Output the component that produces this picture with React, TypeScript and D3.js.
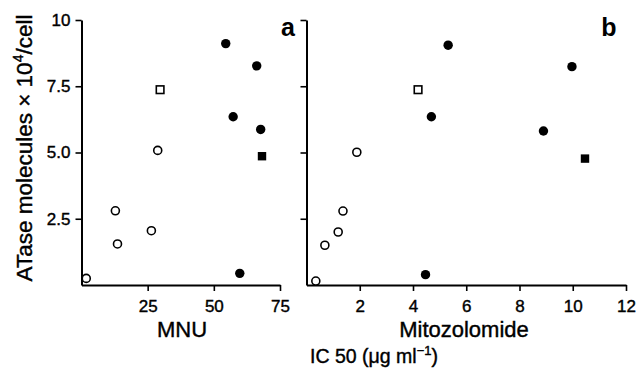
import React, { useRef, useEffect } from "react";
import * as d3 from "d3";

// MNU panel (a)
const mnuX = [1.8, 12.8, 13.6, 26.4, 28.8, 29.7, 54.5, 66.2, 57.3, 67.7, 68.2, 59.8];
const mnuY = [0.25, 2.8, 1.55, 2.05, 5.08, 7.37, 9.11, 8.27, 6.35, 5.87, 4.86, 0.44];
// Mitozolomide panel (b)
const mitoX = [0.35, 0.69, 1.19, 1.37, 1.89, 4.19, 5.32, 9.97, 4.69, 8.9, 10.46, 4.47];
const mitoY = [0.15, 1.5, 2.0, 2.79, 5.01, 7.37, 9.05, 8.24, 6.35, 5.81, 4.77, 0.39];
// o = open circle, s = open square, f = filled circle, F = filled square
const mnuShape = ["o", "o", "o", "o", "o", "s", "f", "f", "f", "f", "F", "f"];
const mitoShape = ["o", "o", "o", "o", "o", "s", "f", "f", "f", "f", "F", "f"];

const yTicks = [2.5, 5, 7.5, 10];
const mnuTicks = [25, 50, 75];
const mitoTicks = [2, 4, 6, 8, 10, 12];

const W = 638;
const H = 370;
const font = "Liberation Sans, Arial, sans-serif";

const yScale = d3.scaleLinear().domain([0, 10]).range([285, 20]);
const xA = d3.scaleLinear().domain([0, 75]).range([81.5, 280]);
const xB = d3.scaleLinear().domain([0, 12]).range([306.5, 626]);

const Marker = ({ x, y, s }: { x: number; y: number; s: string }) => {
    if (s === "o") return <circle cx={x} cy={y} r={4} fill="white" stroke="black" strokeWidth={1.6} />;
    if (s === "f") return <circle cx={x} cy={y} r={4.7} fill="black" />;
    if (s === "s") return <rect x={x - 3.8} y={y - 3.8} width={7.6} height={7.6} fill="white" stroke="black" strokeWidth={1.6} />;
    return <rect x={x - 4.2} y={y - 4.2} width={8.4} height={8.4} fill="black" />;
};

const App = () => {
    const axA = useRef<SVGGElement>(null);
    const ayA = useRef<SVGGElement>(null);
    const axB = useRef<SVGGElement>(null);
    const ayB = useRef<SVGGElement>(null);

    useEffect(() => {
        const style = (g: any) => {
            g.select(".domain").attr("stroke-width", 2);
            g.selectAll(".tick line").attr("stroke-width", 1.6);
            g.selectAll("text")
                .attr("font-family", font)
                .attr("font-size", 17)
                .attr("fill", "black")
                .attr("stroke", "black")
                .attr("stroke-width", 0.4);
        };
        d3.select(axA.current)
            .call(d3.axisBottom(xA).tickValues(mnuTicks).tickSize(6).tickSizeOuter(0).tickPadding(9))
            .call(style);
        d3.select(ayA.current)
            .call(d3.axisLeft(yScale).tickValues(yTicks).tickSize(6).tickSizeOuter(0).tickPadding(5)
                .tickFormat((d: any) => (d === 10 ? "10" : d3.format(".1f")(d))))
            .call(style);
        d3.select(axB.current)
            .call(d3.axisBottom(xB).tickValues(mitoTicks).tickSize(6).tickSizeOuter(0).tickPadding(9))
            .call(style);
        d3.select(ayB.current)
            .call(d3.axisLeft(yScale).tickValues(yTicks).tickSize(6).tickSizeOuter(0).tickFormat(() => ""))
            .call(style);
    }, []);

    const txt = { fontFamily: font, stroke: "black", strokeWidth: 0.4 };

    return (
        <div style={{ position: "absolute", left: 0, top: 0 }}>
            <svg width={W} height={H} style={{ background: "white", display: "block" }}>
                <g ref={axA} transform={`translate(0, ${yScale(0)})`} />
                <g ref={ayA} transform={`translate(${xA(0)}, 0)`} />
                <g ref={axB} transform={`translate(0, ${yScale(0)})`} />
                <g ref={ayB} transform={`translate(${xB(0)}, 0)`} />

                {mnuX.map((v, i) => (
                    <Marker key={"a" + i} x={xA(v)} y={yScale(mnuY[i])} s={mnuShape[i]} />
                ))}
                {mitoX.map((v, i) => (
                    <Marker key={"b" + i} x={xB(v)} y={yScale(mitoY[i])} s={mitoShape[i]} />
                ))}

                <text x={288} y={36} fontFamily={font} fontSize={25} fontWeight="bold" textAnchor="middle">a</text>
                <text x={609} y={36} fontFamily={font} fontSize={25} fontWeight="bold" textAnchor="middle">b</text>

                <text x={182} y={337} {...txt} fontSize={22} textAnchor="middle">MNU</text>
                <text x={464} y={337} {...txt} fontSize={22} textAnchor="middle">Mitozolomide</text>
                <text x={374} y={363} {...txt} fontSize={19.5} textAnchor="middle">
                    IC 50 (μg ml<tspan dy={-8} fontSize={13}>−1</tspan><tspan dy={8}>)</tspan>
                </text>

                <text transform="translate(32, 148) rotate(-90)" {...txt} fontSize={22.5} textAnchor="middle">
                    ATase molecules × 10<tspan dy={-9} fontSize={14}>4</tspan><tspan dy={9}>/cell</tspan>
                </text>
            </svg>
        </div>
    );
};

export default App;
